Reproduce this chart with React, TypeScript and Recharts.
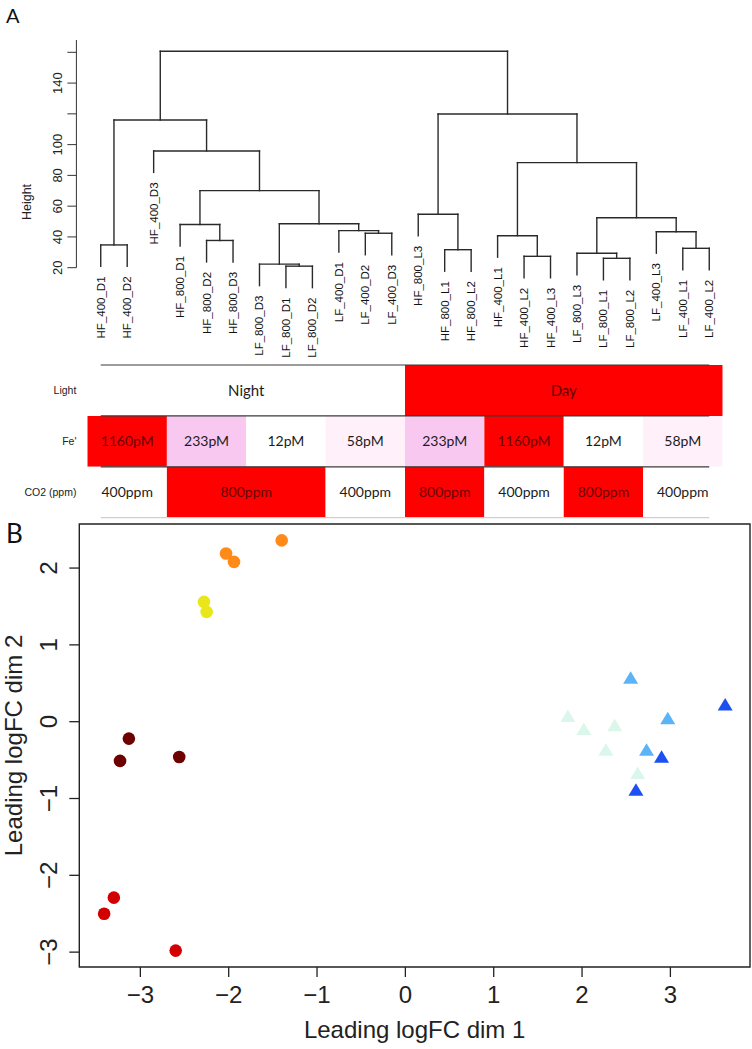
import React from "react";
import {
  ComposedChart,
  Scatter,
  XAxis,
  YAxis,
  ReferenceLine,
  ReferenceArea,
} from "recharts";

const FONT = "'Liberation Sans', Arial, Helvetica, sans-serif";
const TABLE_FONT = "Lato, 'Open Sans', sans-serif";

// leaves in dendrogram order
const leafLabels = [
  "HF_400_D1", "HF_400_D2", "HF_400_D3", "HF_800_D1", "HF_800_D2", "HF_800_D3",
  "LF_800_D3", "LF_800_D1", "LF_800_D2", "LF_400_D1", "LF_400_D2", "LF_400_D3",
  "HF_800_L3", "HF_800_L1", "HF_800_L2", "HF_400_L1", "HF_400_L2", "HF_400_L3",
  "LF_800_L3", "LF_800_L1", "LF_800_L2", "LF_400_L3", "LF_400_L1", "LF_400_L2",
];

// hclust-style merges: negative = leaf position, positive = earlier merge (1-based)
const mergeLeft = [-8, -7, -20, -17, -19, -14, -23, -1, -5, -16, -11, -22, -10, -4, 2, 5, -13, 14, 10, -3, 8, 17, 21];
const mergeRight = [-9, 1, -21, -18, 3, -15, -24, -2, -6, 4, -12, 7, 11, 9, 13, 12, 6, 15, 16, 18, 20, 19, 22];
const mergeHeight = [21.0, 22.3, 26.1, 27.4, 29.4, 31.7, 32.6, 34.8, 37.7, 40.8, 42.4, 43.4, 44.1, 48.1, 48.6, 52.5, 54.7, 70.1, 88.3, 95.9, 116.0, 119.9, 160.7];

const heightTicks = [20, 40, 60, 80, 100, 120, 140, 160];
const heightLabelled = [20, 40, 60, 80, 100, 140];

// annotation table (spans in leaves)
const rowNames = ["CO2 (ppm)", "Fe'", "Light"];
const lightLabels = ["Night", "Day"];
const lightSpans = [12, 12];
const feLabels = ["1160pM", "233pM", "12pM", "58pM", "233pM", "1160pM", "12pM", "58pM"];
const feSpans = [3, 3, 3, 3, 3, 3, 3, 3];
const co2Labels = ["400ppm", "800ppm", "400ppm", "800ppm", "400ppm", "800ppm", "400ppm"];
const co2Spans = [3, 6, 3, 3, 3, 3, 3];

// MDS points
const redX = [-3.30, -3.41, -2.60];
const redY = [-2.29, -2.50, -2.98];
const maroonX = [-3.13, -3.23, -2.56];
const maroonY = [-0.22, -0.51, -0.46];
const orangeX = [-1.40, -2.03, -1.94];
const orangeY = [2.36, 2.19, 2.08];
const yellowX = [-2.28, -2.25];
const yellowY = [1.56, 1.43];
const skyX = [2.55, 2.97, 2.73];
const skyY = [0.55, 0.02, -0.39];
const blueX = [3.62, 2.90, 2.61];
const blueY = [0.20, -0.48, -0.91];
const mintX = [1.84, 2.02, 2.37, 2.27, 2.63];
const mintY = [0.05, -0.12, -0.07, -0.39, -0.69];

const dimXTicks = [-3, -2, -1, 0, 1, 2, 3];
const dimYTicks = [-3, -2, -1, 0, 1, 2];

const cellFill: Record<string, string> = {
  Night: "#ffffff",
  Day: "#ff0000",
  "1160pM": "#ff0000",
  "233pM": "#f9c8f0",
  "12pM": "#ffffff",
  "58pM": "#fff0fa",
  "400ppm": "#ffffff",
  "800ppm": "#ff0000",
};

// ---- dendrogram geometry from merges ----
type Seg = { x1: number; y1: number; x2: number; y2: number; leaf: number };
const nLeaves = leafLabels.length;
const hang = 0.1 * (Math.max(...mergeHeight) - Math.min(...mergeHeight));
const nodeX: number[] = [];
const dendroSegs: Seg[] = [];
mergeLeft.forEach((left, i) => {
  const right = mergeRight[i];
  const h = mergeHeight[i];
  const xOf = (c: number) => (c < 0 ? -c : nodeX[c - 1]);
  const yOf = (c: number) => (c < 0 ? h - hang : mergeHeight[c - 1]);
  const xl = xOf(left);
  const xr = xOf(right);
  nodeX.push((xl + xr) / 2);
  dendroSegs.push({ x1: xl, y1: h, x2: xl, y2: yOf(left), leaf: left < 0 ? -left : 0 });
  dendroSegs.push({ x1: xl, y1: h, x2: xr, y2: h, leaf: 0 });
  dendroSegs.push({ x1: xr, y1: h, x2: xr, y2: yOf(right), leaf: right < 0 ? -right : 0 });
});
const nodePts = nodeX.map((x, i) => ({ x, y: mergeHeight[i] }));
const pad = 0.04 * (nLeaves - 1);
const leafDomain: [number, number] = [1 - pad, nLeaves + pad];

// ---- table cells ----
const tableRows = [
  { row: 2, labels: lightLabels, spans: lightSpans },
  { row: 1, labels: feLabels, spans: feSpans },
  { row: 0, labels: co2Labels, spans: co2Spans },
];
const tableCells = tableRows.flatMap((r) => {
  let start = 0.5;
  return r.labels.map((lab, i) => {
    const c = { x1: start, x2: start + r.spans[i], y1: r.row, y2: r.row + 1, label: lab };
    start += r.spans[i];
    return c;
  });
});
const cellPts = tableCells.map((c) => ({ x: (c.x1 + c.x2) / 2, y: (c.y1 + c.y2) / 2 }));

// ---- scatter groups ----
const toPts = (xs: number[], ys: number[]) => xs.map((x, i) => ({ x, y: ys[i] }));
const groups = [
  { key: "red", color: "#d20000", tri: false, data: toPts(redX, redY) },
  { key: "maroon", color: "#6e0000", tri: false, data: toPts(maroonX, maroonY) },
  { key: "orange", color: "#ff8a17", tri: false, data: toPts(orangeX, orangeY) },
  { key: "yellow", color: "#e9e61c", tri: false, data: toPts(yellowX, yellowY) },
  { key: "mint", color: "#dbf7ec", tri: true, data: toPts(mintX, mintY) },
  { key: "sky", color: "#5bb4f6", tri: true, data: toPts(skyX, skyY) },
  { key: "blue", color: "#1c50f2", tri: true, data: toPts(blueX, blueY) },
];
const allX = groups.flatMap((g) => g.data.map((p) => p.x));
const allY = groups.flatMap((g) => g.data.map((p) => p.y));
const padDomain = (v: number[]): [number, number] => {
  const lo = Math.min(...v);
  const hi = Math.max(...v);
  const d = 0.04 * (hi - lo);
  return [lo - d, hi + d];
};
const dimXDomain = padDomain(allX);
const dimYDomain = padDomain(allY);

const minus = (v: number) => (v < 0 ? `\u2212${Math.abs(v)}` : `${v}`);
const noMark = () => <g />;

const leafLabel = (name: string) => (p: any) => {
  const vb = p.viewBox || p;
  return (
    <text
      transform={`translate(${vb.x},${vb.y + vb.height + 10}) rotate(-90)`}
      textAnchor="end"
      dominantBaseline="central"
      fontSize={11.5}
      fontFamily={FONT}
      fill="#111"
    >
      {name}
    </text>
  );
};

const heightTick = (p: any) => (
  <text
    transform={`translate(${p.x - 5},${p.y}) rotate(-90)`}
    textAnchor="middle"
    fontSize={13}
    fontFamily={FONT}
    fill="#222"
  >
    {heightLabelled.includes(p.payload.value) ? p.payload.value : ""}
  </text>
);

const rowTick = (p: any) => (
  <text
    x={p.x}
    y={p.y}
    textAnchor="end"
    dominantBaseline="central"
    fontSize={10.5}
    fontFamily={FONT}
    fill="#222"
  >
    {rowNames[Math.floor(p.payload.value)]}
  </text>
);

const dimXTick = (p: any) => (
  <text x={p.x} y={p.y + 26} textAnchor="middle" fontSize={24} fontFamily={FONT} fill="#222">
    {minus(p.payload.value)}
  </text>
);

const dimYTick = (p: any) => (
  <text
    transform={`translate(${p.x - 12},${p.y}) rotate(-90)`}
    textAnchor="middle"
    fontSize={24}
    fontFamily={FONT}
    fill="#222"
  >
    {minus(p.payload.value)}
  </text>
);

const Dendrogram = () => (
  <ComposedChart width={752} height={362} margin={{ top: 40, right: 18.4, bottom: 94.3, left: 0 }}>
    <XAxis type="number" dataKey="x" domain={leafDomain} hide allowDataOverflow />
    <YAxis
      type="number"
      dataKey="y"
      domain={[20, 168]}
      allowDataOverflow
      ticks={heightTicks}
      interval={0}
      width={76.4}
      tickSize={9}
      tickMargin={0}
      stroke="#333"
      tick={heightTick}
      label={{
        content: () => (
          <text
            transform="translate(31,202) rotate(-90)"
            textAnchor="middle"
            fontSize={12.5}
            fontFamily={FONT}
            fill="#222"
          >
            Height
          </text>
        ),
      }}
    />
    <Scatter data={nodePts} shape={noMark} isAnimationActive={false} />
    {dendroSegs.map((s, i) => (
      <ReferenceLine
        key={i}
        segment={[
          { x: s.x1, y: s.y1 },
          { x: s.x2, y: s.y2 },
        ]}
        stroke="#2a2a2a"
        strokeWidth={1.4}
        strokeLinecap="square"
        ifOverflow="visible"
        label={s.leaf ? leafLabel(leafLabels[s.leaf - 1]) : undefined}
      />
    ))}
  </ComposedChart>
);

const Annotation = () => (
  <ComposedChart width={752} height={170} margin={{ top: 10, right: 18.4, bottom: 7.3, left: 0 }}>
    <XAxis type="number" dataKey="x" domain={leafDomain} hide allowDataOverflow />
    <YAxis
      type="number"
      dataKey="y"
      domain={[0, 3]}
      allowDataOverflow
      ticks={rowNames.map((_, i) => i + 0.5)}
      interval={0}
      width={76.4}
      axisLine={false}
      tickLine={false}
      tickSize={0}
      tickMargin={0}
      tick={rowTick}
    />
    <Scatter data={cellPts} shape={noMark} isAnimationActive={false} />
    {tableCells.map((c, i) => (
      <ReferenceArea
        key={i}
        x1={c.x1}
        x2={c.x2}
        y1={c.y1}
        y2={c.y2}
        fill={cellFill[c.label]}
        fillOpacity={1}
        stroke="none"
        ifOverflow="visible"
        label={{
          value: c.label,
          position: "center",
          fill: cellFill[c.label] === "#ff0000" ? "#6a0000" : "#1c1c1c",
          fontSize: c.label === "Night" || c.label === "Day" ? 15 : 14,
          fontFamily: TABLE_FONT,
        }}
      />
    ))}
    {[3, 2, 1, 0].map((k) => (
      <ReferenceLine
        key={`r${k}`}
        segment={[
          { x: 1, y: k },
          { x: nLeaves, y: k },
        ]}
        stroke={k === 0 ? "#cfcfcf" : "#3a3a3a"}
        strokeWidth={1.2}
        ifOverflow="visible"
      />
    ))}
  </ComposedChart>
);

const MdsPlot = () => (
  <ComposedChart width={752} height={534} margin={{ top: 9, right: 2, bottom: 0, left: 0 }}>
    <XAxis
      type="number"
      dataKey="x"
      domain={dimXDomain}
      ticks={dimXTicks}
      interval={0}
      height={82}
      tickSize={10}
      tickMargin={0}
      axisLine={false}
      stroke="#222"
      tickLine={{ stroke: "#222", strokeWidth: 1.3 }}
      tick={dimXTick}
      allowDataOverflow
      label={{
        content: (p: any) => {
          const vb = p.viewBox || {};
          return (
            <text x={vb.x + vb.width / 2} y={vb.y + 71} textAnchor="middle" fontSize={24} fontFamily={FONT} fill="#222">
              Leading logFC dim 1
            </text>
          );
        },
      }}
    />
    <YAxis
      type="number"
      dataKey="y"
      domain={dimYDomain}
      ticks={dimYTicks}
      interval={0}
      width={79.3}
      tickSize={10}
      tickMargin={0}
      axisLine={false}
      stroke="#222"
      tickLine={{ stroke: "#222", strokeWidth: 1.3 }}
      tick={dimYTick}
      allowDataOverflow
      label={{
        content: (p: any) => {
          const vb = p.viewBox || {};
          return (
            <text
              transform={`translate(22,${vb.y + vb.height / 2}) rotate(-90)`}
              textAnchor="middle"
              fontSize={24}
              fontFamily={FONT}
              fill="#222"
            >
              Leading logFC dim 2
            </text>
          );
        },
      }}
    />
    <ReferenceArea
      x1={dimXDomain[0]}
      x2={dimXDomain[1]}
      y1={dimYDomain[0]}
      y2={dimYDomain[1]}
      fill="none"
      stroke="#222"
      strokeWidth={1.4}
      ifOverflow="visible"
    />
    {groups.map((g) => (
      <Scatter
        key={g.key}
        name={g.key}
        data={g.data}
        isAnimationActive={false}
        shape={(p: any) =>
          g.tri ? (
            <polygon
              points={`${p.cx},${p.cy - 8.3} ${p.cx + 7.5},${p.cy + 4.2} ${p.cx - 7.5},${p.cy + 4.2}`}
              fill={g.color}
            />
          ) : (
            <circle cx={p.cx} cy={p.cy} r={6.3} fill={g.color} />
          )
        }
      />
    ))}
  </ComposedChart>
);

export default function App() {
  return (
    <div style={{ position: "absolute", left: 0, top: 0, width: 752, height: 1049, background: "#fff" }}>
      <div style={{ position: "absolute", left: 0, top: 0 }}>
        <Dendrogram />
      </div>
      <div style={{ position: "absolute", left: 0, top: 355 }}>
        <Annotation />
      </div>
      <div style={{ position: "absolute", left: 0, top: 515 }}>
        <MdsPlot />
      </div>
      <svg
        width={752}
        height={1049}
        style={{ position: "absolute", left: 0, top: 0, pointerEvents: "none" }}
      >
        <text x={6} y={23} fontSize={20} fontFamily={TABLE_FONT} fill="#111">
          A
        </text>
        <text x={6} y={543} fontSize={26} fontFamily={TABLE_FONT} fill="#111">
          B
        </text>
      </svg>
    </div>
  );
}
